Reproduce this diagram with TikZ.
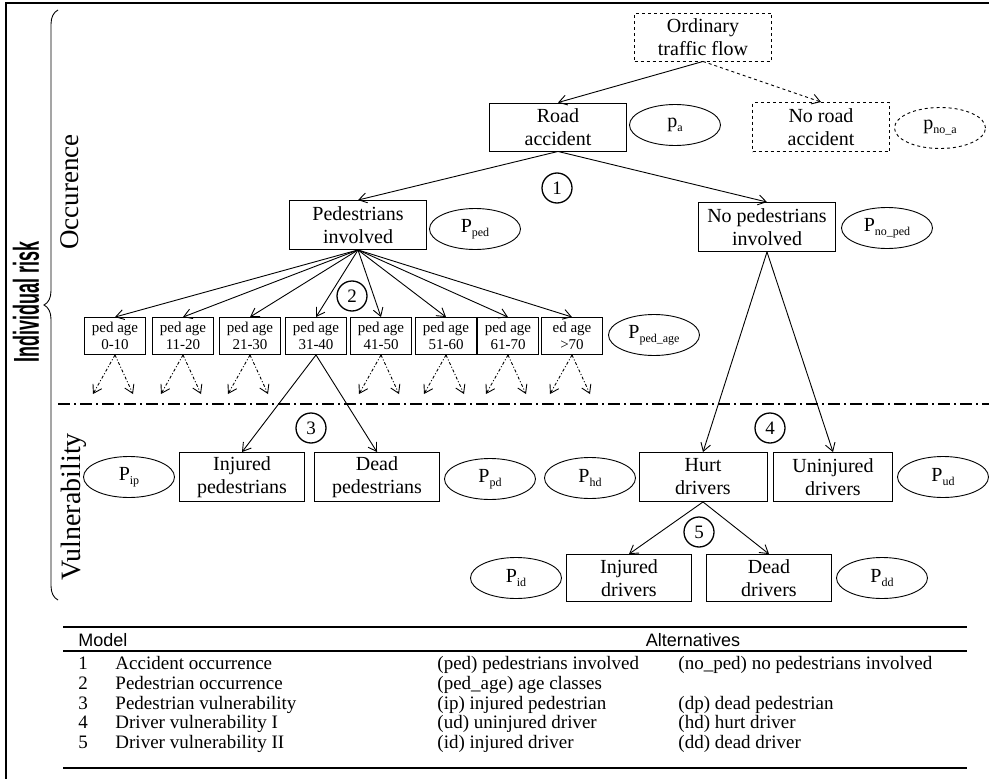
\documentclass[tikz,border=0pt]{standalone}
\usepackage{fontspec}
\setmainfont{Liberation Serif}
\setsansfont{Liberation Sans}
\usepackage{graphicx}
\usetikzlibrary{shapes.geometric,arrows.meta,decorations.pathreplacing}

\newcommand{\probsub}[2]{#1\raisebox{-4pt}{\fontsize{12}{12}\selectfont #2}}

\begin{document}
\begin{tikzpicture}[x=1pt,y=-1pt,line width=0.9pt,
  >={Straight Barb[length=8pt,width=10pt]},
  box/.style={draw,align=center,minimum width=137pt,minimum height=48pt,inner sep=0pt,font=\fontsize{20}{23}\selectfont},
  lowbox/.style={box,minimum width=125pt,minimum height=49pt},
  agebox/.style={draw,align=center,minimum width=61pt,minimum height=37pt,inner sep=0pt,font=\fontsize{15}{17}\selectfont},
  prob/.style={ellipse,draw,minimum width=91pt,minimum height=41pt,inner sep=0pt,font=\fontsize{20}{23}\selectfont},
  num/.style={circle,draw,line width=1.3pt,minimum size=30pt,inner sep=0pt,font=\fontsize{19}{19}\selectfont},
  dotarrow/.style={->,dash pattern=on 3pt off 2pt on 1pt off 2pt},
  tbl/.style={anchor=base west,inner sep=0pt,font=\fontsize{19}{19}\selectfont}]
\useasboundingbox (0,0) rectangle (989,779);
\draw[line width=1.3pt] (989,3) -- (6,3) -- (6,779);

% occurrence part
\node[box,dashed] (ord) at (703,37) {Ordinary\\traffic flow};
\node[box] (road) at (558,127) {Road\\accident};
\node[prob] (pa) at (675,125) {\probsub{p}{a}};
\node[box,dashed,minimum height=49pt] (noroad) at (821,127) {No road\\accident};
\node[prob,dashed] (pnoa) at (940,128) {\probsub{p}{no\_a}};
\node[num] (n1) at (557,188) {1};
\node[box,minimum height=49pt] (ped) at (358,225) {Pedestrians\\involved};
\node[prob] (pped) at (475,229) {\probsub{P}{ped}};
\node[box,minimum height=49pt] (noped) at (767,227) {No pedestrians\\involved};
\node[prob] (pnoped) at (887,228) {\probsub{P}{no\_ped}};
\draw[->] (ord.south) -- (road.north);
\draw[->,dashed] (ord.south) -- (noroad.north);
\draw[->] (road.south) -- (ped.north);
\draw[->] (road.south) -- (noped.north);

\foreach \nm/\rng/\xx in {a1/0-10/115,a2/11-20/183,a3/21-30/250,a4/31-40/316,a5/41-50/381,a6/51-60/446,a7/61-70/508}
  \node[agebox] (\nm) at (\xx,336) {ped age\\\rng};
\node[agebox] (a8) at (572,336) {ed age\\>70};
\node[prob] (ppedage) at (654,335) {\probsub{P}{ped\_age}};
\node[num] (n2) at (352,296) {2};
\foreach \nm in {a1,a2,a3,a4,a5,a6,a7,a8}
  \draw[->] (ped.south) -- (\nm.north);
\foreach \nm/\xx in {a1/115,a2/183,a3/250,a5/381,a6/446,a7/508,a8/572}
{ \coordinate (\nm l) at (\xx-22,394);
  \coordinate (\nm r) at (\xx+18,394);
  \draw[dotarrow] (\nm.south) -- (\nm l);
  \draw[dotarrow] (\nm.south) -- (\nm r);}

\draw[line width=1.4pt,dash pattern=on 12pt off 4pt on 2pt off 4pt] (58,404) -- (989,404);

% vulnerability part
\node[num] (n3) at (311,428) {3};
\node[lowbox] (injp) at (242,477) {Injured\\pedestrians};
\node[lowbox] (deadp) at (377,477) {Dead\\pedestrians};
\node[prob] (pip) at (129,477) {\probsub{P}{ip}};
\node[prob] (ppd) at (490,479) {\probsub{P}{pd}};
\node[prob] (phd) at (590,478) {\probsub{P}{hd}};
\node[lowbox,minimum width=128pt] (hurt) at (703,477) {Hurt\\drivers};
\node[lowbox,minimum width=119pt] (uninj) at (833,477) {Uninjured\\drivers};
\node[prob] (pud) at (943,477) {\probsub{P}{ud}};
\node[num] (n4) at (770,428) {4};
\node[num] (n5) at (699,532) {5};
\node[lowbox,minimum height=47pt] (injd) at (629,578) {Injured\\drivers};
\node[lowbox,minimum height=47pt] (deadd) at (769,578) {Dead\\drivers};
\node[prob] (pid) at (516,578) {\probsub{P}{id}};
\node[prob] (pdd) at (882,578) {\probsub{P}{dd}};
\draw[->] (a4.south) -- (injp.north);
\draw[->] (a4.south) -- (deadp.north);
\draw[->] (noped.south) -- (hurt.north);
\draw[->] (noped.south) -- (uninj.north);
\draw[->] (hurt.south) -- (injd.north);
\draw[->] (hurt.south) -- (deadd.north);

% side labels
\draw[decorate,decoration={brace,amplitude=14pt}] (58,600) -- (58,10);
\node[rotate=90,anchor=base] (occ) at (78,192) {\fontsize{27}{27}\selectfont Occurence};
\node[rotate=90,anchor=base] (vul) at (80,507) {\fontsize{28}{28}\selectfont Vulnerability};
\node[rotate=90] (irisk) at (26,302) {\scalebox{0.5}[1]{\sffamily\bfseries\fontsize{36}{36}\selectfont Individual risk}};

% model table
\draw[line width=1.5pt] (63,627) -- (967,627);
\draw[line width=1.5pt] (63,651) -- (967,651);
\draw[line width=1.5pt] (63,768) -- (967,768);
\node[tbl,font=\sffamily\fontsize{18}{18}\selectfont] (hmodel) at (78,646) {Model};
\node[tbl,anchor=base,font=\sffamily\fontsize{18}{18}\selectfont] (halt) at (693,646) {Alternatives};
\foreach \i/\mdl/\alta/\altb/\yy in {1/Accident occurrence/{(ped) pedestrians involved}/{(no\_ped) no pedestrians involved}/669,
    2/Pedestrian occurrence/{(ped\_age) age classes}/{}/689,
    3/Pedestrian vulnerability/{(ip) injured pedestrian}/{(dp) dead pedestrian}/709,
    4/Driver vulnerability I/{(ud) uninjured driver}/{(hd) hurt driver}/728,
    5/Driver vulnerability II/{(id) injured driver}/{(dd) dead driver}/748}
{ \node[tbl] (r\i n) at (78,\yy) {\i};
  \node[tbl] (r\i m) at (115,\yy) {\mdl};
  \node[tbl] (r\i a) at (437,\yy) {\alta};
  \node[tbl] (r\i b) at (678,\yy) {\altb};}
\end{tikzpicture}
\end{document}
